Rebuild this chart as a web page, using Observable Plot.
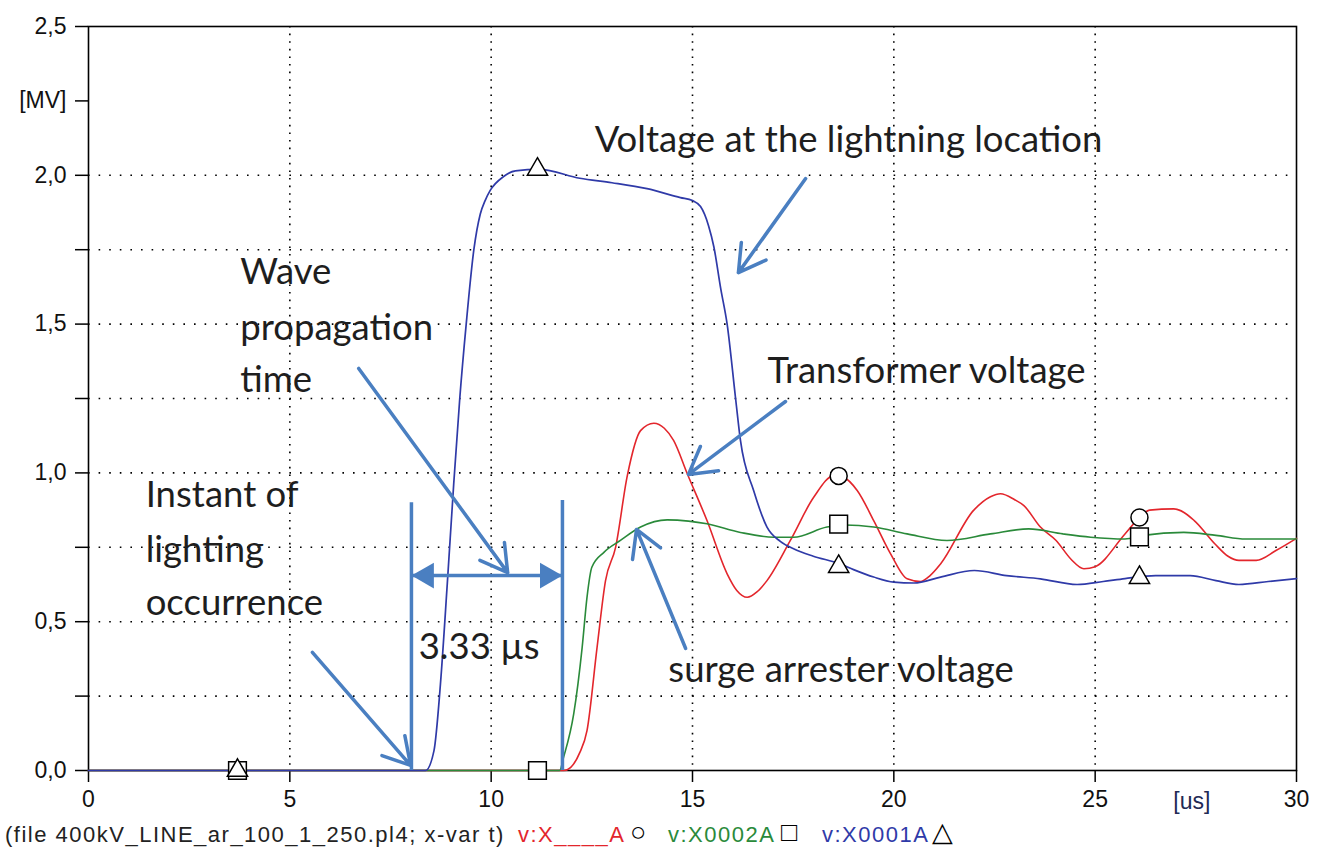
<!DOCTYPE html>
<html><head><meta charset="utf-8">
<script src="https://cdn.jsdelivr.net/npm/d3@7"></script>
<script src="https://cdn.jsdelivr.net/npm/@observablehq/plot@0.6"></script>
<style>
html,body{margin:0;padding:0;background:#fff;}
#chart svg{display:block}
#caption{position:relative;height:30px;font-family:"Liberation Sans",Arial,sans-serif;font-size:22px;line-height:26px;white-space:pre;letter-spacing:1.5px;}
#caption span{position:absolute;top:0;}
#caption span.sym{font-size:27px;letter-spacing:0;top:-3px;}
</style></head><body>
<div id="chart"></div>
<div id="caption"></div>
<script>
// ---- data (time in µs, voltage in MV) ----
const blueT = [0, 8.37, 8.58, 8.74, 8.91, 9.07, 9.22, 9.38, 9.57, 9.73, 9.85, 9.98, 10.3, 10.6, 11.2, 12.2, 13.0, 13.87, 14.7, 15.0, 15.2, 15.4, 15.53, 15.7, 15.86, 16.07, 16.19, 16.52, 16.85, 17.18, 17.51, 18.0, 18.65, 19.0, 19.5, 20.0, 20.5, 21.16, 22.0, 22.8, 23.64, 24.55, 25.2, 25.74, 26.5, 27.36, 28.0, 28.57, 29.3, 30];
const blueV = [0, 0, 0.067, 0.29, 0.627, 0.963, 1.25, 1.5, 1.75, 1.87, 1.915, 1.95, 1.995, 2.015, 2.02, 1.99, 1.975, 1.955, 1.925, 1.915, 1.895, 1.83, 1.76, 1.62, 1.5, 1.25, 1.11, 0.94, 0.818, 0.77, 0.745, 0.72, 0.695, 0.675, 0.65, 0.633, 0.63, 0.65, 0.672, 0.655, 0.644, 0.625, 0.635, 0.645, 0.655, 0.655, 0.638, 0.625, 0.635, 0.645];

const redT = [0, 11.8, 11.97, 12.2, 12.38, 12.63, 12.84, 13.09, 13.38, 13.71, 14.04, 14.3, 14.53, 14.87, 15.36, 15.86, 16.1, 16.36, 16.6, 16.85, 17.43, 18.01, 18.51, 18.75, 19.09, 19.5, 19.92, 20.33, 20.66, 20.9, 21.16, 21.98, 22.4, 22.65, 23.0, 23.23, 23.64, 24.03, 24.4, 24.72, 25.0, 25.74, 26.1, 26.35, 26.95, 27.46, 27.97, 28.3, 28.57, 29.0, 29.5, 30];
const redV = [0, 0, 0.01, 0.06, 0.134, 0.414, 0.638, 0.75, 0.99, 1.142, 1.167, 1.15, 1.109, 0.997, 0.84, 0.661, 0.605, 0.582, 0.6, 0.638, 0.773, 0.918, 0.99, 0.985, 0.941, 0.84, 0.728, 0.644, 0.635, 0.655, 0.694, 0.874, 0.92, 0.93, 0.91, 0.89, 0.818, 0.773, 0.71, 0.678, 0.685, 0.795, 0.85, 0.875, 0.879, 0.84, 0.762, 0.72, 0.706, 0.706, 0.74, 0.78];

const greenT = [0, 11.7, 11.8, 12.05, 12.26, 12.38, 12.5, 12.8, 13.21, 13.71, 14.37, 14.9, 15.36, 16.19, 17.02, 17.51, 18.34, 18.8, 19.5, 20.33, 21.32, 22.4, 23.35, 24.2, 24.89, 25.74, 26.2, 27.2, 28.0, 28.74, 30];
const greenV = [0, 0, 0.045, 0.19, 0.414, 0.582, 0.683, 0.733, 0.773, 0.818, 0.842, 0.838, 0.829, 0.8, 0.784, 0.784, 0.818, 0.825, 0.818, 0.795, 0.773, 0.795, 0.812, 0.795, 0.784, 0.778, 0.79, 0.8, 0.79, 0.778, 0.778];

// markers (ATP style symbols)
const circleT = [3.7, 11.15, 18.63, 26.1];
const circleV = [0, 0, 0.99, 0.85];
const squareT = [3.7, 11.15, 18.63, 26.1];
const squareV = [0, 0, 0.828, 0.785];
const triT = [3.7, 11.15, 18.63, 26.1];
const triV = [0, 2.02, 0.685, 0.648];

// axes
const xTicks = [0, 5, 10, 15, 20, 25, 30];
const yTicks = [0, 0.25, 0.5, 0.75, 1, 1.25, 1.5, 1.75, 2, 2.25, 2.5];
const yTickLabels = ["0,0", "", "0,5", "", "1,0", "", "1,5", "", "2,0", "[MV]", "2,5"];
const xGrid = [5, 10, 15, 20, 25];
const yGrid = [0.25, 0.5, 0.75, 1, 1.25, 1.5, 1.75, 2];
const xUnit = "[us]";
const xUnitT = 27.4;

// annotations (in data units)
const annLabels = ["Voltage at the lightning location", "Wave", "propagation", "time", "Transformer voltage", "Instant of", "lighting", "occurrence", "3.33 µs", "surge arrester voltage"];
const annT = [12.57, 3.77, 3.77, 3.77, 16.86, 1.42, 1.42, 1.42, 8.2, 14.4];
const annV = [2.117, 1.673, 1.485, 1.31, 1.341, 0.924, 0.739, 0.561, 0.413, 0.336];

const arrowT1 = [17.81, 17.31, 14.83, 6.71, 5.56];
const arrowV1 = [1.989, 1.240, 0.410, 1.351, 0.397];
const arrowT2 = [16.14, 14.90, 13.61, 10.41, 8.0];
const arrowV2 = [1.673, 0.995, 0.810, 0.665, 0.017];

const markT = [8.02, 11.77];   // instants bracketing the propagation time
const markTop = [0.90, 0.907];
const spanV = 0.655;

// ---- build ----
const rows = (T, V) => T.map((t, i) => ({t, v: V[i]}));
const blue = rows(blueT, blueV), red = rows(redT, redV), green = rows(greenT, greenV);
const ann = annLabels.map((s, i) => ({s, t: annT[i], v: annV[i]}));
const arrows = arrowT1.map((t, i) => ({t1: t, v1: arrowV1[i], t2: arrowT2[i], v2: arrowV2[i]}));
const marks = markT.map((t, i) => ({t, top: markTop[i]}));
const ACC = "#4a7fc1";

const chart = Plot.plot({
  width: 1322, height: 822,
  marginLeft: 88, marginRight: 26, marginTop: 26, marginBottom: 52,
  style: {fontFamily: "'Liberation Sans', Arial, sans-serif", fontSize: "23px", color: "#111", background: "#fff", overflow: "visible"},
  x: {domain: [0, 30]},
  y: {domain: [0, 2.5]},
  marks: [
    Plot.ruleY(yGrid, {stroke: "#000", strokeWidth: 1.6, strokeDasharray: "1.6,9"}),
    Plot.ruleX(xGrid, {stroke: "#000", strokeWidth: 1.6, strokeDasharray: "1.6,6"}),
    Plot.axisX({ticks: xTicks, tickSize: 12, tickPadding: 8, label: null, tickFormat: d => String(d), stroke: "#000", strokeWidth: 1.5}),
    Plot.axisY({ticks: yTicks, tickSize: 13, tickPadding: 9, label: null, tickFormat: d => yTickLabels[yTicks.indexOf(d)], stroke: "#000", strokeWidth: 1.5}),
    Plot.text([{t: xUnitT, v: 0}], {x: "t", y: "v", text: () => xUnit, dy: 31, lineAnchor: "middle", fill: "#222a55"}),
    Plot.frame({stroke: "#000", strokeWidth: 1.6}),
    Plot.line(red, {x: "t", y: "v", stroke: "#e3262c", strokeWidth: 1.6, curve: "monotone-x"}),
    Plot.line(green, {x: "t", y: "v", stroke: "#2a8a3a", strokeWidth: 1.6, curve: "monotone-x"}),
    Plot.line(blue, {x: "t", y: "v", stroke: "#2f3aa8", strokeWidth: 1.7, curve: "monotone-x"}),
    Plot.dot(rows(circleT, circleV), {x: "t", y: "v", symbol: "circle", r: 8.5, fill: "#fff", stroke: "#000", strokeWidth: 1.5}),
    Plot.dot(rows(squareT, squareV), {x: "t", y: "v", symbol: "square", r: 10, fill: "#fff", stroke: "#000", strokeWidth: 1.5}),
    Plot.dot(rows(triT, triV), {x: "t", y: "v", symbol: "triangle", r: 7.5, fill: "#fff", stroke: "#000", strokeWidth: 1.5}),
    // annotations
    Plot.ruleX(marks, {x: "t", y1: 0, y2: "top", stroke: ACC, strokeWidth: 3.5}),
    Plot.link([{a: markT[0], b: markT[1]}], {x1: "a", x2: "b", y1: () => spanV, y2: () => spanV, stroke: ACC, strokeWidth: 3.5}),
    Plot.dot([{t: markT[0]}], {x: "t", y: () => spanV, symbol: "triangle", r: 9.6, rotate: -90, dx: 15, fill: ACC}),
    Plot.dot([{t: markT[1]}], {x: "t", y: () => spanV, symbol: "triangle", r: 9.6, rotate: 90, dx: -15, fill: ACC}),
    Plot.arrow(arrows, {x1: "t1", y1: "v1", x2: "t2", y2: "v2", stroke: ACC, strokeWidth: 3.5, headLength: 13}),
    Plot.text(ann, {x: "t", y: "v", text: "s", textAnchor: "start", lineAnchor: "middle", fontFamily: "Lato, 'Open Sans', sans-serif", fontSize: 36.5, fill: "#1e1e1e"})
  ]
});
document.getElementById("chart").append(chart);

// caption / legend line below the plot
const capItems = [
  {text: "(file 400kV_LINE_ar_100_1_250.pl4; x-var t)", color: "#222", left: 5},
  {text: "v:X____A", color: "#e3262c", left: 518},
  {text: "○", color: "#000", left: 630, sym: true},
  {text: "v:X0002A", color: "#2a8a3a", left: 668},
  {text: "□", color: "#000", left: 781, sym: true},
  {text: "v:X0001A", color: "#2f3aa8", left: 822},
  {text: "△", color: "#000", left: 932, sym: true}
];
const cap = document.getElementById("caption");
for (const it of capItems) {
  const s = document.createElement("span");
  s.textContent = it.text; s.style.color = it.color; s.style.left = it.left + "px";
  if (it.sym) s.className = "sym";
  cap.append(s);
}
</script>
</body></html>
